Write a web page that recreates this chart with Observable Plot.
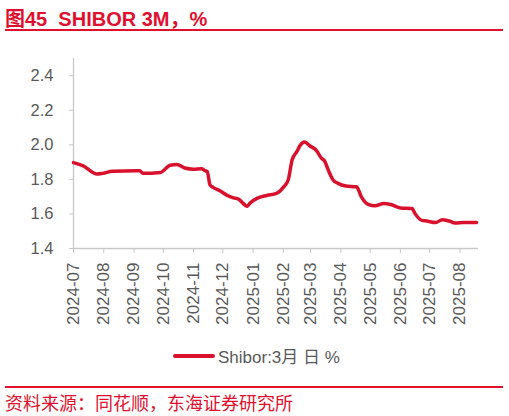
<!DOCTYPE html>
<html>
<head>
<meta charset="utf-8">
<script src="https://cdn.jsdelivr.net/npm/d3@7"></script>
<script src="https://cdn.jsdelivr.net/npm/@observablehq/plot@0.6"></script>
<style>
  body { margin: 0; background: #fff; width: 509px; height: 416px; position: relative; overflow: hidden;
         font-family: "Liberation Sans", Arial, "Noto Sans CJK SC", sans-serif; }
  #title { position: absolute; left: 5px; top: 3px; font-size: 20px; font-weight: bold; color: #e0102f;
           font-family: "Liberation Sans", Arial, "Noto Sans CJK SC", sans-serif; white-space: pre; }
  .redline { position: absolute; left: 5px; width: 498px; background: #e0102f; }
  #chart { position: absolute; left: 0; top: 36px; }
  #legend { position: absolute; left: 173px; top: 343px; display: flex; align-items: center;
            font-size: 17px; color: #595959; font-family: "Liberation Sans", Arial, "Noto Sans CJK SC", sans-serif; }
  #legend .swatch { width: 42px; height: 4px; border-radius: 2px; background: #d8112d; margin-right: 3px; }
  #source { position: absolute; left: 5px; top: 391px; font-size: 18px; color: #e0102f;
            font-family: "Noto Sans CJK SC", sans-serif; line-height: 22px; }
</style>
</head>
<body>
<div id="title">图45  SHIBOR 3M，%</div>
<div class="redline" style="top:29px;height:2px;"></div>
<div id="chart"></div>
<div id="legend"><div class="swatch"></div><span>Shibor:3月 日 %</span></div>
<div class="redline" style="top:386px;height:1.5px;"></div>
<div id="source">资料来源：同花顺，东海证券研究所</div>
<script>
// values
const dates = [
  "2024-07-01", "2024-07-11", "2024-07-25", "2024-07-31", "2024-08-10", "2024-09-04", "2024-09-07",
  "2024-09-10", "2024-09-28", "2024-10-08", "2024-10-15", "2024-10-23", "2024-11-01", "2024-11-09",
  "2024-11-13", "2024-11-15", "2024-11-18", "2024-11-21", "2024-11-28", "2024-12-05", "2024-12-12",
  "2024-12-17", "2024-12-26", "2024-12-29", "2025-01-05", "2025-01-15", "2025-01-25", "2025-02-01",
  "2025-02-06", "2025-02-10", "2025-02-15", "2025-02-18", "2025-02-23", "2025-02-28", "2025-03-07",
  "2025-03-12", "2025-03-15", "2025-03-19", "2025-03-24", "2025-03-29", "2025-04-06", "2025-04-17",
  "2025-04-22", "2025-04-29", "2025-05-06", "2025-05-15", "2025-05-22", "2025-06-01", "2025-06-13",
  "2025-06-16", "2025-06-23", "2025-06-28", "2025-07-07", "2025-07-14", "2025-07-21", "2025-07-27",
  "2025-08-05", "2025-08-18"
];
const shibor3m = [
  1.897, 1.878, 1.831, 1.835, 1.847, 1.850, 1.850,
  1.835, 1.840, 1.882, 1.886, 1.866, 1.859, 1.862,
  1.850, 1.845, 1.767, 1.754, 1.734, 1.709, 1.693,
  1.686, 1.645, 1.664, 1.690, 1.707, 1.719, 1.754,
  1.797, 1.913, 1.962, 1.995, 2.016, 1.995, 1.967,
  1.923, 1.909, 1.855, 1.797, 1.777, 1.762, 1.757,
  1.699, 1.655, 1.647, 1.661, 1.655, 1.635, 1.631,
  1.602, 1.563, 1.559, 1.550, 1.567, 1.559, 1.548,
  1.550, 1.550
];
const yTicks = [1.4, 1.6, 1.8, 2.0, 2.2, 2.4];
const xStart = new Date("2024-07-01");
const xEnd = new Date("2025-08-20");

const rows = dates.map((d, i) => ({date: new Date(d), value: shibor3m[i]}));

const grey = "#c8c8c8";
const chart = Plot.plot({
  width: 509,
  height: 302,
  marginLeft: 73,
  marginRight: 31,
  marginTop: 22,
  marginBottom: 90,
  x: {type: "utc", domain: [xStart, xEnd]},
  y: {domain: [1.4, 2.5]},
  style: {fontFamily: '"Liberation Sans", Arial, sans-serif', fontSize: "16px", background: "white"},
  marks: [
    Plot.ruleY([1.4], {stroke: grey, strokeWidth: 1.3}),
    Plot.ruleX([xStart], {stroke: grey, strokeWidth: 1.3}),
    Plot.axisY({ticks: yTicks, tickFormat: ".1f", tickSize: 4, tickPadding: 16, label: null,
                stroke: grey, fill: "#595959", fontSize: 16.5}),
    Plot.axisX({ticks: d3.utcMonth.every(1), tickFormat: d3.utcFormat("%Y-%m"), tickRotate: -90,
                tickSize: 5, tickPadding: 9, stroke: grey, fill: "#595959", fontSize: 17, label: null}),
    Plot.line(rows, {x: "date", y: "value", stroke: "#d8112d", strokeWidth: 3.5, curve: "monotone-x"})
  ]
});
document.getElementById("chart").append(chart);
</script>
</body>
</html>
